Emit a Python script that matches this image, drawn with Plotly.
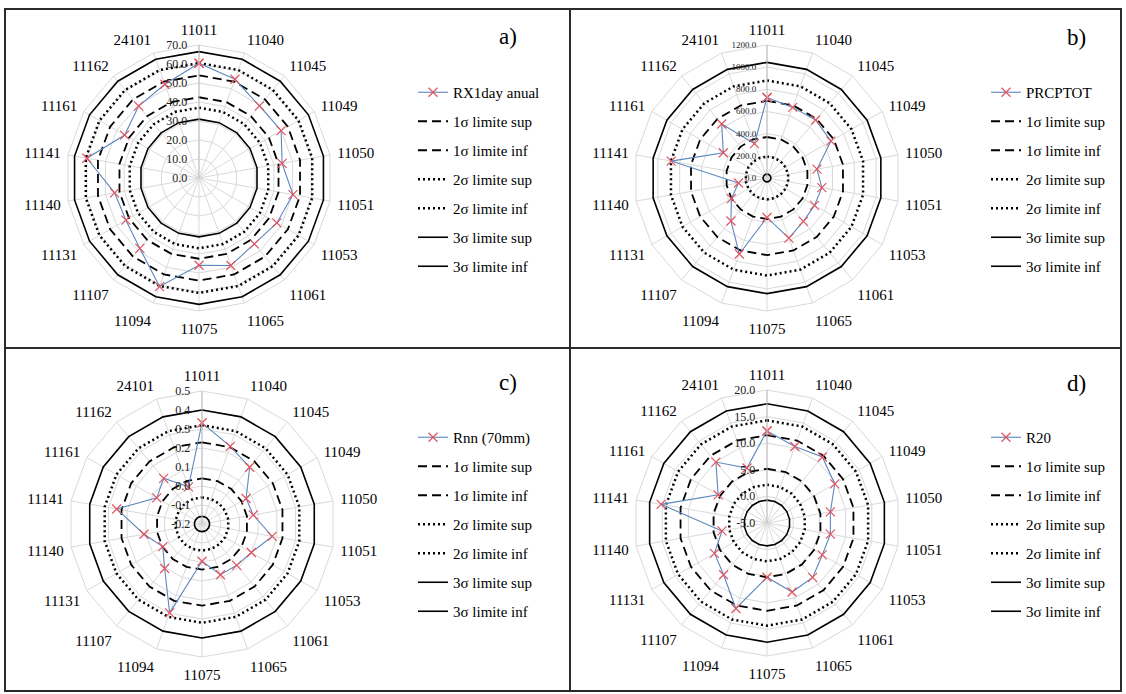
import plotly.graph_objects as go

categories = ["11011", "11040", "11045", "11049", "11050", "11051", "11053", "11061", "11065",
              "11075", "11094", "11107", "11131", "11140", "11141", "11161", "11162", "24101"]

rx1day_anual = [60.4, 55.3, 49.5, 49.9, 44.4, 50.2, 47.3, 45.3, 49.0,
                45.9, 60.8, 48.4, 44.4, 45.1, 59.9, 45.2, 49.4, 52.5]
prcptot = [726, 678, 683, 666, 458, 502, 495, 511, 578,
           356, 730, 506, 371, 261, 878, 455, 636, 330]
rnn_70mm = [0.332, 0.235, 0.190, 0.068, 0.074, 0.175, 0.100, 0.084, 0.084,
            -0.004, 0.298, 0.106, 0.038, 0.110, 0.256, 0.075, 0.114, 0.008]
r20 = [12.3, 10.3, 11.2, 9.7, 7.1, 7.1, 7.0, 8.35, 8.8,
       5.2, 12.1, 7.7, 6.4, 3.6, 15.2, 5.6, 9.95, 6.0]

# order: 1σ sup, 1σ inf, 2σ sup, 2σ inf, 3σ sup, 3σ inf
limits_a = [54.0, 42.5, 60.5, 37.0, 66.5, 31.0]
limits_b = [696, 370, 880, 193, 1043, 35]
limits_c = [0.23, 0.04, 0.32, -0.06, 0.40, -0.16]
limits_d = [11.5, 5.2, 14.3, 2.2, 17.4, -0.7]

limit_names = ["1σ limite sup", "1σ limite inf", "2σ limite sup",
               "2σ limite inf", "3σ limite sup", "3σ limite inf"]
series_names = ["RX1day anual", "PRCPTOT", "Rnn (70mm)", "R20"]
panel_labels = ["a)", "b)", "c)", "d)"]
radial_ranges = [[0, 70], [0, 1200], [-0.2, 0.5], [-5, 20]]
radial_dticks = [10, 200, 0.1, 5]

series_values = [rx1day_anual, prcptot, rnn_70mm, r20]
limit_values = [limits_a, limits_b, limits_c, limits_d]

W, H = 1126, 694
FONT = "Liberation Serif"
R = 133
centers = [(199, 178), (767, 178), (202, 524), (767, 523)]
legend_pos = [(413, 76), (986, 76), (413, 421), (986, 421)]
label_pos = [(508, 36), (1076, 38), (508, 382), (1076, 383)]
radial_font = [12, 9, 12, 12]

dash_styles = [
    dict(color="black", width=1.8, dash="9px,5px"),
    dict(color="black", width=1.8, dash="9px,5px"),
    dict(color="black", width=2.5, dash="2px,3px"),
    dict(color="black", width=2.5, dash="2px,3px"),
    dict(color="black", width=1.6, dash="solid"),
    dict(color="black", width=1.6, dash="solid"),
]

fig = go.Figure()
theta_closed = categories + [categories[0]]

for i in range(4):
    pname = "polar" if i == 0 else f"polar{i+1}"
    lname = "legend" if i == 0 else f"legend{i+1}"
    rmin = radial_ranges[i][0]
    # radial axis is offset so that its origin sits at the range minimum (tick labels keep the real values)
    for k, (nm, val) in enumerate(zip(limit_names, limit_values[i])):
        fig.add_trace(go.Scatterpolar(
            r=[val - rmin] * len(theta_closed), theta=theta_closed, mode="lines",
            line=dash_styles[k], name=nm, subplot=pname, legend=lname,
            legendgroup=f"g{i}_{k}", legendrank=k + 2, hoverinfo="skip"))
    vals = series_values[i]
    closed = vals + [vals[0]]
    fig.add_trace(go.Scatterpolar(
        r=[v - rmin for v in closed], theta=theta_closed, mode="lines+markers",
        customdata=closed, hovertemplate="%{theta}: %{customdata}<extra></extra>",
        line=dict(color="#5B87BF", width=1.1),
        marker=dict(symbol="x-thin", size=9, line=dict(color="#E0555F", width=1.2), color="#E0555F"),
        name=series_names[i], subplot=pname, legend=lname,
        legendgroup=f"g{i}_data", legendrank=1))

layout = dict(
    width=W, height=H, margin=dict(l=0, r=0, t=0, b=0),
    paper_bgcolor="white", plot_bgcolor="white", showlegend=True,
    font=dict(family=FONT, color="black"),
)

shapes = []
for (x0, y0, x1, y1) in [(5, 9, 570, 348), (570, 9, 1121, 348), (5, 348, 570, 691), (570, 348, 1121, 691)]:
    shapes.append(dict(type="rect", xref="paper", yref="paper",
                       x0=x0 / W, x1=x1 / W, y0=1 - y1 / H, y1=1 - y0 / H,
                       line=dict(color="#2b2b2b", width=2), layer="above"))
layout["shapes"] = shapes

annotations = []
for i in range(4):
    cx, cy = centers[i]
    pname = "polar" if i == 0 else f"polar{i+1}"
    lname = "legend" if i == 0 else f"legend{i+1}"
    rmin, rmax = radial_ranges[i]
    dt = radial_dticks[i]
    n = int(round((rmax - rmin) / dt))
    tickvals = [k * dt for k in range(n + 1)]
    ticktext = [f"{rmin + k * dt:.1f}" for k in range(n + 1)]
    layout[pname] = dict(
        domain=dict(x=[(cx - R) / W, (cx + R) / W], y=[1 - (cy + R) / H, 1 - (cy - R) / H]),
        bgcolor="white", gridshape="linear",
        angularaxis=dict(type="category", categoryarray=categories, rotation=90, direction="clockwise",
                         tickfont=dict(family=FONT, size=15, color="black"),
                         gridcolor="#D9D9D9", linecolor="#D9D9D9", showline=True,
                         ticks="outside", ticklen=4, tickcolor="rgba(0,0,0,0)"),
        radialaxis=dict(range=[0, rmax - rmin], tickvals=tickvals, ticktext=ticktext,
                        angle=90, tickangle=90, side="counterclockwise",
                        tickfont=dict(family=FONT, size=radial_font[i], color="#222"),
                        gridcolor="#D9D9D9", linecolor="#BFBFBF", showline=True,
                        ticks="outside", ticklen=7, tickcolor="rgba(0,0,0,0)"),
    )
    lx, ly = legend_pos[i]
    layout[lname] = dict(x=lx / W, y=1 - ly / H, xanchor="left", yanchor="top",
                         font=dict(family=FONT, size=15, color="black"),
                         bgcolor="rgba(0,0,0,0)", tracegroupgap=6.5, traceorder="grouped")
    ax_, ay_ = label_pos[i]
    annotations.append(dict(text=panel_labels[i], x=ax_ / W, y=1 - ay_ / H, xref="paper", yref="paper",
                            xanchor="center", yanchor="middle",
                            showarrow=False, font=dict(family=FONT, size=23, color="black")))
layout["annotations"] = annotations

fig.update_layout(**layout)
fig.write_html("out.html", config={"displayModeBar": False},
               post_script="document.body.style.margin='0px';document.documentElement.style.margin='0px';")
